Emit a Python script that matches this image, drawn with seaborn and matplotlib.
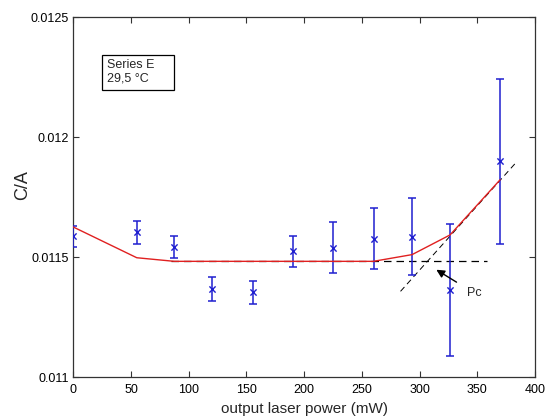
import matplotlib
matplotlib.use("Agg")
import matplotlib.pyplot as plt
import matplotlib.patches as mpatches
import seaborn as sns
import pandas as pd

# data
power = [0, 55, 87.5, 120, 155.4, 190.6, 225.3, 260.8, 293.5, 326.4, 369.8]
ca = [0.011586, 0.011603, 0.011542, 0.011367, 0.011353, 0.011524, 0.011539, 0.011577, 0.011583, 0.011364, 0.011899]
err_low = [0.011541, 0.011553, 0.011497, 0.011317, 0.011306, 0.011458, 0.011433, 0.011449, 0.011424, 0.011088, 0.011556]
err_high = [0.011631, 0.011650, 0.011586, 0.011417, 0.011400, 0.011586, 0.011646, 0.011706, 0.011746, 0.011636, 0.012243]

fit_x = [0, 55, 87.5, 260, 293.5, 326.4, 369.8]
fit_y = [0.011625, 0.011497, 0.011482, 0.011482, 0.011510, 0.011592, 0.011822]

flat_x = [85, 358]
flat_y = [0.011482, 0.011482]
slope_x = [283.5, 382.7]
slope_y = [0.011357, 0.011889]

x_ticks = [0, 50, 100, 150, 200, 250, 300, 350, 400]
y_ticks = [0.011, 0.0115, 0.012, 0.0125]
y_tick_labels = ["0.011", "0.0115", "0.012", "0.0125"]

sns.set_style("ticks")
plt.rcParams['font.family'] = ['Liberation Sans', 'DejaVu Sans']

fig = plt.figure(figsize=(5.49, 4.19), dpi=100)
ax = fig.add_axes([0.1335, 0.1002, 0.841, 0.8592])

df = pd.DataFrame({"power": power, "ca": ca})
lo = [c - l for c, l in zip(ca, err_low)]
hi = [h - c for c, h in zip(ca, err_high)]

ax.errorbar(power, ca, yerr=[lo, hi], fmt='none', ecolor='#1f1fd0', elinewidth=1.1, capsize=3.2, capthick=1.1, zorder=3)
sns.scatterplot(data=df, x="power", y="ca", marker='x', color='#1f1fd0', s=20, linewidth=1.0, ax=ax, zorder=4)

sns.lineplot(x=flat_x, y=flat_y, ax=ax, color='black', linewidth=0.9, zorder=2)
ax.lines[-1].set_dashes([6, 4])
sns.lineplot(x=slope_x, y=slope_y, ax=ax, color='black', linewidth=0.7, zorder=2)
ax.lines[-1].set_dashes([6, 4])
sns.lineplot(x=fit_x, y=fit_y, ax=ax, color='#e02020', linewidth=1.0, zorder=3, sort=False)

ax.annotate("Pc", xy=(314.5, 0.011447), xytext=(341, 0.01135), fontsize=9,
            va='center', ha='left',
            arrowprops=dict(arrowstyle='-|>', color='black', lw=1.0, mutation_scale=12,
                            shrinkA=6, shrinkB=0))

rect = mpatches.Rectangle((0.0615, 0.797), 0.1573, 0.097, transform=ax.transAxes,
                          facecolor='white', edgecolor='black', linewidth=0.9, zorder=5)
ax.add_patch(rect)
ax.text(0.0735, 0.882, "Series E\n29,5 °C", transform=ax.transAxes, fontsize=9,
        va='top', ha='left', linespacing=1.1, zorder=6)

ax.set_xlim(0, 400)
ax.set_ylim(0.011, 0.0125)
ax.set_xticks(x_ticks)
ax.set_xticklabels([str(t) for t in x_ticks])
ax.set_yticks(y_ticks)
ax.set_yticklabels(y_tick_labels)
ax.tick_params(direction='in', top=True, right=True, length=4, width=0.8, labelsize=9, colors='#333333', labelcolor='black', pad=3)
ax.tick_params(axis='x', pad=5.2)
for s in ax.spines.values():
    s.set_linewidth(0.9)
    s.set_color('#333333')
ax.set_xlabel("output laser power (mW)", fontsize=11, labelpad=4.5)
ax.set_ylabel("C/A", fontsize=13)
ax.yaxis.set_label_coords(-0.0914, 0.533)
if ax.get_legend():
    ax.get_legend().remove()

fig.savefig("out.png", dpi=100)
